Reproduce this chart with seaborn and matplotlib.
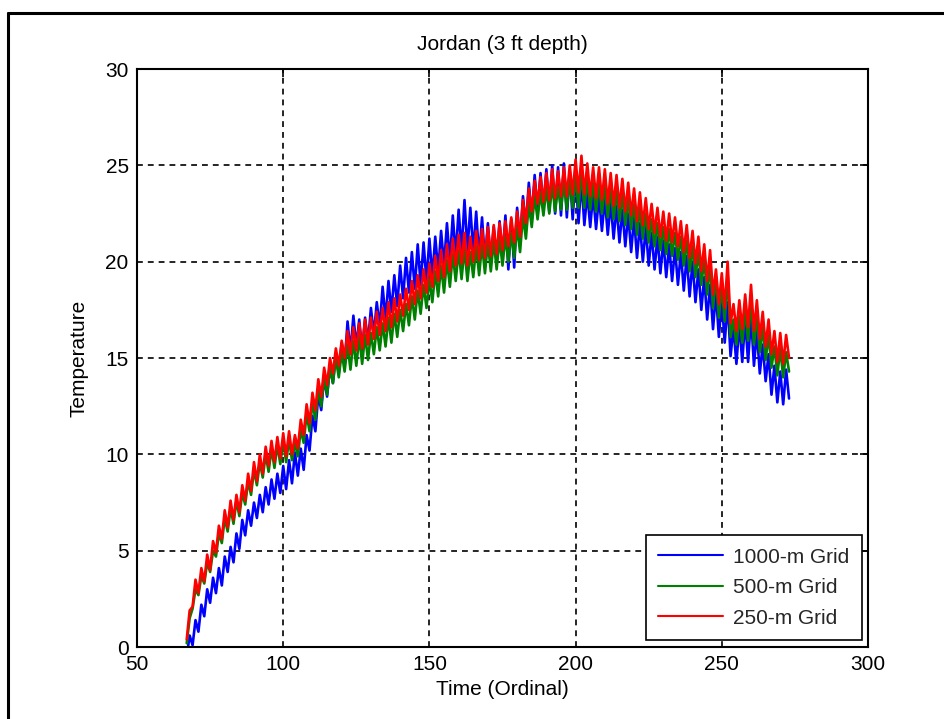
import numpy as np
import pandas as pd
import matplotlib
matplotlib.use("Agg")
import matplotlib.pyplot as plt
import seaborn as sns
from matplotlib.lines import Line2D

# ---- data (daily readings, day 67 .. 273) ----
start_day = 67
end_day = 273

temp_1000m = [
    -0.5, 0.6, 0.1, 1.4, 0.8, 2.2, 1.6, 3.0, 2.3, 3.6,
    2.8, 4.1, 3.2, 4.7, 3.9, 5.2, 4.4, 5.9, 5.1, 6.6,
    5.8, 7.1, 6.3, 7.5, 6.7, 7.9, 7.0, 8.3, 7.4, 8.7,
    7.7, 9.0, 8.0, 9.4, 8.2, 9.7, 8.5, 10.1, 8.9, 10.3,
    9.2, 11.0, 10.2, 12.0, 11.2, 13.1, 12.3, 14.0, 13.0, 14.6,
    13.7, 15.2, 14.2, 15.8, 14.6, 16.9, 15.3, 17.2, 15.6, 17.0,
    15.4, 17.1, 15.8, 17.6, 16.2, 17.9, 16.6, 18.7, 17.0, 19.0,
    17.4, 19.3, 17.7, 19.8, 18.1, 20.2, 18.4, 20.5, 18.6, 20.9,
    18.8, 21.0, 19.0, 21.2, 19.2, 21.3, 19.5, 21.6, 19.8, 22.0,
    20.0, 22.4, 20.3, 22.7, 20.5, 23.2, 20.6, 22.8, 20.5, 22.6,
    20.2, 22.3, 20.0, 22.0, 19.9, 21.8, 20.0, 22.1, 20.2, 22.4,
    19.6, 22.2, 19.7, 22.8, 21.0, 23.4, 21.8, 24.1, 22.3, 24.5,
    22.6, 24.6, 22.7, 24.8, 22.6, 25.0, 22.5, 24.9, 22.4, 25.1,
    22.3, 24.7, 22.2, 24.6, 22.0, 24.2, 21.9, 23.6, 21.8, 23.5,
    21.7, 23.4, 21.6, 23.3, 21.4, 23.1, 21.2, 22.9, 21.0, 22.7,
    20.8, 22.5, 20.5, 22.3, 20.2, 22.0, 20.0, 21.8, 19.8, 21.5,
    19.6, 21.3, 19.4, 21.1, 19.2, 20.9, 19.0, 20.7, 18.8, 20.5,
    18.5, 20.3, 18.2, 20.0, 17.9, 19.6, 17.5, 19.2, 17.0, 18.8,
    16.5, 18.4, 16.1, 18.0, 15.8, 17.9, 15.1, 16.6, 14.7, 16.8,
    14.8, 17.0, 14.8, 17.2, 14.6, 16.4, 14.2, 15.7, 13.8, 15.2,
    13.1, 14.6, 12.7, 14.3, 12.6, 14.4, 12.9,
]

temp_500m = [
    0.2, 1.5, 2.0, 3.0, 2.7, 3.7, 3.3, 4.4, 3.9, 5.0,
    4.7, 5.9, 5.4, 6.7, 6.0, 7.2, 6.4, 7.6, 6.8, 8.0,
    7.4, 8.6, 7.9, 9.2, 8.4, 9.6, 8.8, 10.0, 9.1, 10.3,
    9.3, 10.5, 9.5, 10.7, 9.6, 10.8, 9.7, 10.6, 9.9, 11.3,
    10.6, 12.1, 11.2, 12.7, 11.8, 13.4, 12.5, 14.0, 13.1, 14.5,
    13.7, 15.0, 14.0, 15.3, 14.3, 15.7, 14.4, 15.9, 14.6, 16.1,
    14.7, 16.2, 14.9, 16.3, 15.2, 16.6, 15.4, 16.8, 15.6, 17.1,
    15.8, 17.3, 16.1, 17.5, 16.4, 17.8, 16.7, 18.2, 17.0, 18.5,
    17.3, 18.8, 17.6, 19.1, 17.9, 19.5, 18.2, 19.8, 18.4, 20.1,
    18.7, 20.4, 19.0, 20.6, 19.1, 20.7, 19.0, 20.5, 19.2, 20.8,
    19.3, 20.9, 19.4, 21.0, 19.5, 21.1, 19.6, 21.2, 19.8, 21.3,
    20.0, 21.5, 20.2, 21.8, 20.5, 22.4, 21.2, 23.0, 21.8, 23.4,
    22.2, 23.6, 22.4, 23.8, 22.5, 24.0, 22.6, 23.9, 22.7, 24.1,
    22.7, 24.2, 22.8, 24.4, 22.8, 24.6, 22.8, 24.3, 22.7, 24.1,
    22.6, 24.1, 22.5, 24.0, 22.3, 23.8, 22.2, 23.7, 22.1, 23.5,
    21.9, 23.3, 21.7, 23.0, 21.4, 22.8, 21.2, 22.5, 21.0, 22.2,
    20.8, 22.0, 20.6, 21.8, 20.4, 21.7, 20.3, 21.5, 20.1, 21.3,
    19.8, 21.1, 19.5, 20.8, 19.2, 20.5, 18.8, 20.1, 18.3, 19.8,
    17.6, 19.2, 17.1, 18.7, 16.9, 19.3, 16.1, 17.0, 15.7, 17.2,
    15.8, 17.5, 15.9, 18.0, 15.7, 17.2, 15.3, 16.6, 14.9, 16.2,
    14.5, 15.6, 14.1, 15.5, 14.0, 15.3, 14.3,
]

temp_250m = [
    0.4, 1.9, 2.1, 3.5, 2.8, 4.1, 3.4, 4.8, 4.0, 5.5,
    4.9, 6.3, 5.6, 7.1, 6.2, 7.6, 6.6, 7.9, 7.0, 8.4,
    7.6, 9.0, 8.1, 9.6, 8.6, 10.0, 9.0, 10.4, 9.4, 10.7,
    9.6, 10.9, 9.8, 11.1, 9.9, 11.2, 10.0, 11.0, 10.3, 11.8,
    11.0, 12.6, 11.6, 13.2, 12.3, 13.9, 13.0, 14.5, 13.6, 15.0,
    14.2, 15.5, 14.6, 15.9, 15.0, 16.4, 15.2, 16.6, 15.4, 16.8,
    15.5, 17.0, 15.7, 17.1, 16.0, 17.4, 16.2, 17.6, 16.4, 17.9,
    16.6, 18.1, 16.9, 18.3, 17.2, 18.6, 17.5, 19.0, 17.8, 19.3,
    18.1, 19.6, 18.4, 19.9, 18.7, 20.3, 19.0, 20.6, 19.2, 20.9,
    19.5, 21.2, 19.8, 21.4, 19.9, 21.5, 19.8, 21.3, 20.0, 21.6,
    20.1, 21.7, 20.2, 21.8, 20.3, 21.9, 20.4, 22.0, 20.6, 22.1,
    20.8, 22.3, 21.0, 22.6, 21.3, 23.2, 22.0, 23.8, 22.6, 24.2,
    23.0, 24.4, 23.1, 24.6, 23.2, 24.8, 23.3, 24.7, 23.4, 24.9,
    23.4, 25.0, 23.5, 25.3, 23.6, 25.5, 23.5, 25.1, 23.4, 24.9,
    23.3, 24.9, 23.2, 24.8, 23.0, 24.6, 22.9, 24.5, 22.8, 24.3,
    22.6, 24.1, 22.4, 23.8, 22.1, 23.6, 21.9, 23.3, 21.7, 23.0,
    21.5, 22.8, 21.3, 22.6, 21.1, 22.5, 21.0, 22.3, 20.8, 22.1,
    20.5, 21.9, 20.2, 21.6, 19.9, 21.3, 19.5, 20.9, 19.0, 20.6,
    18.3, 19.6, 17.8, 19.4, 17.6, 20.0, 16.8, 17.8, 16.4, 18.0,
    16.5, 18.3, 16.6, 18.8, 16.4, 18.0, 16.0, 17.4, 15.6, 17.0,
    15.2, 16.4, 14.8, 16.3, 14.7, 16.2, 15.0,
]

series_names = ["1000-m Grid", "500-m Grid", "250-m Grid"]
series_colors = ["#0000ff", "#008000", "#ff0000"]
x_ticks = [50, 100, 150, 200, 250, 300]
y_ticks = [0, 5, 10, 15, 20, 25, 30]

days = np.arange(start_day, end_day + 1)
frames = []
for name, vals in zip(series_names, [temp_1000m, temp_500m, temp_250m]):
    frames.append(pd.DataFrame({"Time": days, "Temperature": vals, "Grid": name}))
df = pd.concat(frames, ignore_index=True)

# ---- style ----
sns.set_theme(style="white")
plt.rcParams["font.family"] = ["Liberation Sans", "DejaVu Sans"]

fig = plt.figure(figsize=(9.45, 7.19), dpi=100)
ax = fig.add_axes([0.145, 0.1, 0.7735, 0.804])

sns.lineplot(data=df, x="Time", y="Temperature", hue="Grid",
             hue_order=series_names, palette=dict(zip(series_names, series_colors)),
             linewidth=1.9, estimator=None, sort=False, ax=ax)

ax.set_xlim(50, 300)
ax.set_ylim(0, 30)
ax.set_xticks(x_ticks)
ax.set_yticks(y_ticks)
ax.tick_params(axis="both", which="both", direction="in", length=6, width=1.2,
               top=True, right=True, labelsize=15, colors="black", pad=6)

ax.grid(True, color="black", linestyle=(0, (3.5, 3)), linewidth=1.2)
ax.set_axisbelow(True)
for sp in ax.spines.values():
    sp.set_color("black")
    sp.set_linewidth(1.5)

ax.set_title("Jordan (3 ft depth)", fontsize=15, color="black", pad=14)
ax.set_xlabel("Time (Ordinal)", fontsize=15, color="black", labelpad=4)
ax.set_ylabel("Temperature", fontsize=15, color="black", labelpad=12)

leg = ax.legend(loc="lower right", fontsize=15, frameon=True, fancybox=False,
                edgecolor="black", handlelength=3.1, borderpad=0.6,
                labelspacing=0.55, handletextpad=0.5, borderaxespad=0,
                bbox_to_anchor=(0.992, 0.012))
leg.get_frame().set_linewidth(1.2)
leg.get_frame().set_alpha(1)
for line in leg.get_lines():
    line.set_linewidth(1.5)

# outer frame (left and top edges)
fig.add_artist(Line2D([8.5 / 945, 8.5 / 945], [0, 1 - 12.5 / 719],
                      transform=fig.transFigure, color="black", linewidth=2.2))
fig.add_artist(Line2D([8.5 / 945, 1.0], [1 - 12.5 / 719, 1 - 12.5 / 719],
                      transform=fig.transFigure, color="black", linewidth=2.2))

fig.savefig("out.png", dpi=100, facecolor="white")
